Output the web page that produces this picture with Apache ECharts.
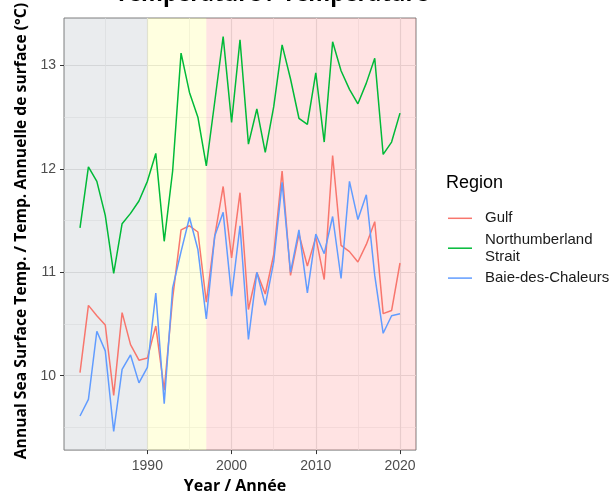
<!DOCTYPE html>
<html>
<head>
<meta charset="utf-8">
<script src="https://cdn.jsdelivr.net/npm/echarts@6/dist/echarts.min.js"></script>
<style>html,body{margin:0;padding:0;background:#fff;}#c{width:611px;height:499px;}</style>
</head>
<body>
<div id="c"></div>
<script>
const years = [1982,1983,1984,1985,1986,1987,1988,1989,1990,1991,1992,1993,1994,1995,1996,1997,1998,1999,2000,2001,2002,2003,2004,2005,2006,2007,2008,2009,2010,2011,2012,2013,2014,2015,2016,2017,2018,2019,2020];
const gulf = [10.03,10.68,10.58,10.49,9.81,10.61,10.30,10.15,10.17,10.48,9.86,10.75,11.41,11.45,11.39,10.71,11.35,11.83,11.14,11.77,10.64,11.00,10.79,11.17,11.98,10.97,11.37,11.06,11.34,10.93,12.13,11.26,11.20,11.10,11.27,11.49,10.60,10.63,11.09];
const northumberland = [11.43,12.02,11.88,11.55,10.99,11.47,11.57,11.69,11.88,12.15,11.30,11.98,13.12,12.74,12.50,12.03,12.65,13.28,12.45,13.25,12.24,12.58,12.16,12.60,13.20,12.87,12.49,12.43,12.93,12.26,13.23,12.95,12.77,12.63,12.83,13.07,12.14,12.26,12.54];
const baie = [9.61,9.77,10.43,10.24,9.46,10.06,10.20,9.93,10.08,10.80,9.73,10.85,11.20,11.53,11.22,10.55,11.35,11.58,10.77,11.45,10.35,11.00,10.68,11.10,11.87,11.00,11.41,10.80,11.37,11.18,11.54,10.94,11.88,11.51,11.75,10.97,10.41,10.58,10.60];
const seriesNames = ['Gulf','Northumberland\nStrait','Baie-des-Chaleurs'];
const seriesColors = ['#F8766D','#00BA38','#619CFF'];
const xMajorTicks = [1990,2000,2010,2020];
const xMinorTicks = [1985,1995,2005,2015];
const yMajorTicks = [10,11,12,13];
const yMinorTicks = [9.5,10.5,11.5,12.5,13.5];
const periods = [[1980.1,1990],[1990,1997],[1997,2021.9]];
const periodColors = ['rgba(112,128,144,0.15)','rgba(255,255,0,0.12)','rgba(255,0,0,0.11)'];
const X_MIN = 1980.1, X_MAX = 2021.9, Y_MIN = 9.28, Y_MAX = 13.46;

const chart = echarts.init(document.getElementById('c'), null, {renderer:'canvas'});
const sans = 'Liberation Sans, Arial, sans-serif';
const bold = 'Open Sans, sans-serif';
const valueSets = [gulf, northumberland, baie];

const lineSeries = seriesNames.map((n,i)=>({
  name:n, type:'line', xAxisIndex:0, yAxisIndex:0, z:3,
  data: years.map((y,k)=>[y, valueSets[i][k]]),
  symbol:'none', showSymbol:false,
  lineStyle:{color:seriesColors[i], width:1.5},
  itemStyle:{color:seriesColors[i]},
  emphasis:{disabled:true}, animation:false
}));

const bgSeries = {
  name:'bg', type:'line', data:[], xAxisIndex:0, yAxisIndex:0, z:1, silent:true, animation:false,
  markArea:{silent:true, data: periods.map((p,i)=>[{xAxis:p[0], itemStyle:{color:periodColors[i]}},{xAxis:p[1]}])}
};

const axisCommonX = {type:'value', min:X_MIN, max:X_MAX, gridIndex:0, position:'bottom'};
const axisCommonY = {type:'value', min:Y_MIN, max:Y_MAX, gridIndex:0, position:'left'};
const plain = v => String(v);

chart.setOption({
  animation:false,
  backgroundColor:'#fff',
  title:[
    {text:'Temperature / Température', left:115, top:-16, padding:0,
     textStyle:{fontFamily:bold, fontWeight:'bold', fontSize:22.3, color:'#000'}},
    {text:'Region', left:446, top:174, padding:0,
     textStyle:{fontFamily:sans, fontWeight:'normal', fontSize:18, color:'#000'}}
  ],
  grid:{left:64, right:195, top:18, bottom:48, show:true, borderColor:'#7f7f7f', borderWidth:1, backgroundColor:'transparent'},
  legend:{
    orient:'vertical', left:443, top:205, itemWidth:24, itemHeight:1.5, itemGap:5,
    icon:'rect',
    data:seriesNames,
    textStyle:{fontFamily:sans, fontSize:15, lineHeight:16.6, color:'#1a1a1a', padding:[0,0,0,8]},
    selectedMode:false
  },
  xAxis:[
    Object.assign({}, axisCommonX, {
      name:'Year / Année', nameLocation:'middle', nameGap:26,
      nameTextStyle:{fontFamily:bold, fontWeight:'bold', fontSize:16, color:'#000', padding:[0,10,0,0]},
      axisLine:{show:false},
      axisTick:{show:true, customValues:xMajorTicks, length:4, lineStyle:{color:'#333', width:1}},
      axisLabel:{customValues:xMajorTicks, formatter:plain, fontFamily:sans, fontSize:14, color:'#4d4d4d', margin:9},
      splitLine:{show:true, lineStyle:{color:'#e6e6e6', width:1.2}}
    }),
    Object.assign({}, axisCommonX, {
      axisLine:{show:false},
      axisTick:{show:false, customValues:xMinorTicks},
      axisLabel:{show:false, customValues:xMinorTicks},
      splitLine:{show:true, lineStyle:{color:'#eeeeee', width:0.7}}
    })
  ],
  yAxis:[
    Object.assign({}, axisCommonY, {
      name:'Annual Sea Surface Temp. / Temp. Annuelle de surface (°C)', nameLocation:'middle', nameGap:32,
      nameTextStyle:{fontFamily:bold, fontWeight:'bold', fontSize:15.7, color:'#000', padding:[0,0,0,6]},
      axisLine:{show:false},
      axisTick:{show:true, customValues:yMajorTicks, length:4, lineStyle:{color:'#333', width:1}},
      axisLabel:{customValues:yMajorTicks, formatter:plain, fontFamily:sans, fontSize:14, color:'#4d4d4d', margin:8},
      splitLine:{show:true, lineStyle:{color:'#e6e6e6', width:1.2}}
    }),
    Object.assign({}, axisCommonY, {
      axisLine:{show:false},
      axisTick:{show:false, customValues:yMinorTicks},
      axisLabel:{show:false, customValues:yMinorTicks},
      splitLine:{show:true, lineStyle:{color:'#eeeeee', width:0.7}}
    })
  ],
  series:[bgSeries].concat(lineSeries)
});
</script>
</body>
</html>
